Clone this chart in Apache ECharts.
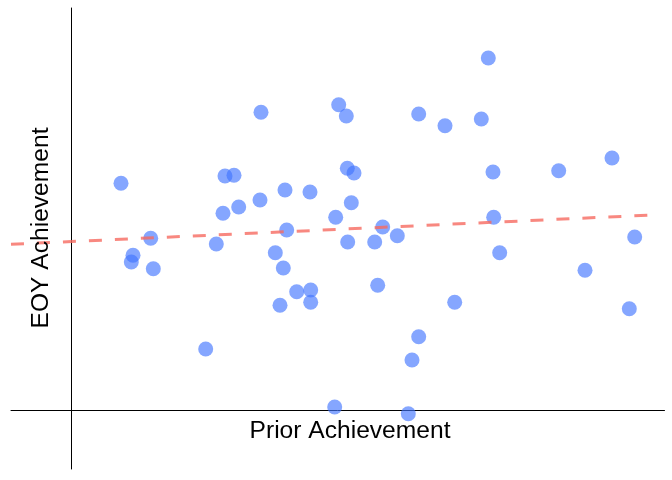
<!DOCTYPE html>
<html>
<head>
<meta charset="utf-8">
<script src="https://cdn.jsdelivr.net/npm/echarts@6/dist/echarts.min.js"></script>
<style>
html,body{margin:0;padding:0;background:#fff;}
#chart{width:672px;height:480px;}
</style>
</head>
<body>
<div id="chart"></div>
<script>
// Prior achievement (x) and EOY achievement (y), arbitrary units
var priorAchievement = [416.8, 267.2, 274.8, 189.5, 347.2, 373.5, 409.8, 49.5, 153.5, 162.5,
  275.8, 282.5, 421.5, 487.2, 540.5, 213.5, 238.5, 188.5, 167.2, 151.5,
  279.8, 264.2, 422.2, 311.2, 215.2, 325.8, 79.2, 144.8, 276.2, 303.2,
  563.2, 61.5, 59.8, 81.8, 203.8, 211.8, 428.2, 513.5, 306.2, 225.2,
  239.2, 208.5, 239.2, 383.2, 557.8, 347.2, 134.2, 340.5, 263.2, 336.8];
var eoyAchievement = [352.5, 305.8, 294.5, 298.2, 296.5, 284.8, 291.5, 227.2, 234.5, 235.2,
  242.2, 237.5, 238.5, 239.8, 252.5, 220.5, 218.5, 210.5, 203.5, 197.2,
  207.8, 193.2, 193.2, 183.5, 180.5, 174.8, 172.2, 166.5, 168.5, 168.5,
  173.5, 155.2, 148.5, 141.8, 157.8, 142.5, 157.8, 140.2, 125.2, 118.8,
  120.5, 105.2, 108.2, 108.2, 101.8, 73.8, 61.5, 50.5, 3.5, -3.2];
// Fitted trend line endpoints
var fitX = [-60.5, 580.2];
var fitY = [166.2, 195.5];
var xTitle = 'Prior Achievement';
var yTitle = 'EOY Achievement';

var points = priorAchievement.map(function (x, i) { return [x, eoyAchievement[i]]; });
var fitLine = fitX.map(function (x, i) { return [x, fitY[i]]; });

var chart = echarts.init(document.getElementById('chart'), null, {renderer: 'canvas'});
chart.setOption({
  animation: false,
  backgroundColor: '#ffffff',
  grid: {left: 11, right: 7.5, top: 8, bottom: 11, containLabel: false, outerBoundsMode: 'none'},
  xAxis: {
    type: 'value', min: -60.5, max: 593,
    axisLine: {show: true, onZero: true, lineStyle: {color: '#000', width: 1}},
    axisTick: {show: false}, axisLabel: {show: false}, splitLine: {show: false}
  },
  yAxis: {
    type: 'value', min: -58.5, max: 402.5,
    axisLine: {show: true, onZero: true, lineStyle: {color: '#000', width: 1}},
    axisTick: {show: false}, axisLabel: {show: false}, splitLine: {show: false}
  },
  graphic: [
    {
      type: 'text', x: 350, y: 431.5, z: 10,
      style: {text: xTitle, fontSize: 24.6, fontFamily: 'Liberation Sans', fill: '#000',
        align: 'center', verticalAlign: 'middle'}
    },
    {
      type: 'text', x: 41, y: 228, rotation: Math.PI / 2, z: 10,
      style: {text: yTitle, fontSize: 24.6, fontFamily: 'Liberation Sans', fill: '#000',
        align: 'center', verticalAlign: 'middle'}
    }
  ],
  series: [
    {
      type: 'scatter', data: points, symbol: 'circle', symbolSize: 15, z: 2,
      itemStyle: {color: 'rgba(64,116,255,0.8)', borderWidth: 0}
    },
    {
      type: 'line', data: fitLine, showSymbol: false, symbol: 'none', z: 3,
      lineStyle: {color: 'rgba(246,106,96,0.8)', width: 3, type: [13, 13]}
    }
  ]
});
</script>
</body>
</html>
